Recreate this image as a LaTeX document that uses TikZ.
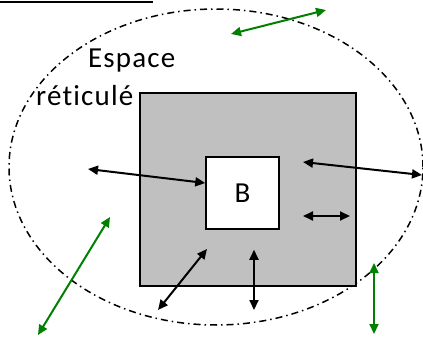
\documentclass[tikz,border=0pt]{standalone}
\usepackage{fontspec}
\setmainfont{Carlito}[Ligatures=NoCommon, LetterSpace=4]
\usepackage{xcolor}
\definecolor{gridfill}{HTML}{C0C0C0}
\definecolor{freegreen}{HTML}{008000}
\usetikzlibrary{arrows.meta, positioning, calc}

\begin{document}
\begin{tikzpicture}[
        x=1pt, y=1pt,
        zonetext/.style={
            font=\fontsize{29}{35}\selectfont,
            inner sep=0pt,
            anchor=base west
        },
        gridzone/.style={
            rectangle,
            draw=black,
            line width=1.5pt,
            fill=gridfill,
            minimum width=216pt,
            minimum height=193pt,
            inner sep=0pt
        },
        bbox/.style={
            rectangle,
            draw=black,
            line width=1.5pt,
            fill=white,
            minimum width=73pt,
            minimum height=72pt,
            inner sep=0pt,
            font=\fontsize{29}{35}\selectfont
        },
        boundary/.style={
            line width=1.5pt,
            dash pattern=on 7pt off 4pt on 1.5pt off 4pt
        },
        arrow/.style={
            {Triangle[length=10pt,width=9pt]}-{Triangle[length=10pt,width=9pt]},
            draw=black,
            line width=2pt
        },
        garrow/.style={
            arrow,
            draw=freegreen
        }
    ]

    \useasboundingbox (0,0) rectangle (423,338);

    % Outline
    \draw[line width=2pt] (0,336) -- (153,336);
    \draw[boundary] (216,171) ellipse [x radius=207, y radius=158];

    % Nodes
    \node[gridzone] (zone) at (248,148.5) {};
    \node[bbox] (B) at (242.5,145) {B};
    \node[zonetext] (espace) at (88,270) {Espace};
    \node[zonetext] (reticule) at (36,232) {réticulé};

    % Free ends
    \coordinate (in1) at (88,169);
    \coordinate (r1) at (303,176);
    \coordinate (r2) at (422,163);
    \coordinate (h1) at (303,122);
    \coordinate (h2) at (350,122);
    \coordinate (v1) at ($(B.south)+(11.5,-20)$);
    \coordinate (v2) at (254,28);
    \coordinate (d1) at (207,89);
    \coordinate (d2) at (158,28);
    \coordinate (g1) at (231,304);
    \coordinate (g2) at (326,328);
    \coordinate (g3) at (38,3);
    \coordinate (g4) at (110,121);
    \coordinate (g5) at (374,75);
    \coordinate (g6) at (374,4);

    % Arrows
    \draw[arrow] (in1) -- (B.165);
    \draw[arrow] (r1) -- (r2);
    \draw[arrow] (h1) -- (h2);
    \draw[arrow] (v1) -- (v2);
    \draw[arrow] (d1) -- (d2);

    \draw[garrow] (g1) -- (g2);
    \draw[garrow] (g3) -- (g4);
    \draw[garrow] (g5) -- (g6);

\end{tikzpicture}
\end{document}
